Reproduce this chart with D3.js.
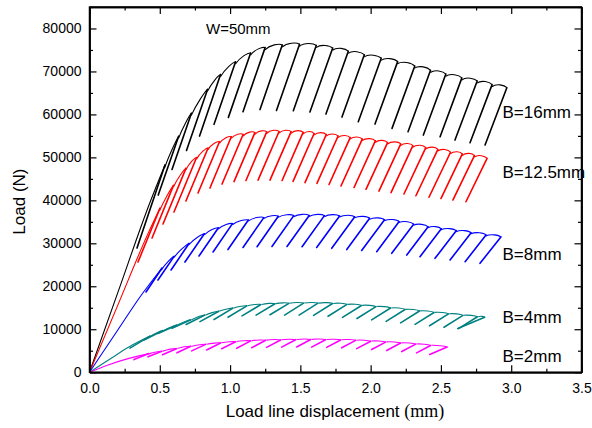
<!DOCTYPE html>
<html><head><meta charset="utf-8">
<script src="https://cdn.jsdelivr.net/npm/d3@7"></script>
<style>body{margin:0;background:#fff}svg{display:block}</style>
</head><body>
<svg id="c" width="592" height="428"></svg>
<script>
// ---------------- DATA ----------------
const xTicks = [0, 0.5, 1.0, 1.5, 2.0, 2.5, 3.0, 3.5];
const xMinorTicks = [0.25, 0.75, 1.25, 1.75, 2.25, 2.75, 3.25];
const yTicks = [0, 10000, 20000, 30000, 40000, 50000, 60000, 70000, 80000];
const yMinorTicks = [5000, 15000, 25000, 35000, 45000, 55000, 65000, 75000, 85000];
const seriesNames = ["B=16mm", "B=12.5mm", "B=8mm", "B=4mm", "B=2mm"];
const seriesColors = ["#000000", "#ff0000", "#0000ff", "#008080", "#ff00ff"];

// B=16mm
const b16InitX = [0, 0.2, 0.43];
const b16InitLoad = [0, 18400, 39500];
const b16TopX = [0.537,0.637,0.728,0.843,0.935,1.042,1.149,1.252,1.374,1.497,1.616,1.733,1.844,1.958,2.078,2.195,2.317,2.429,2.538,2.652,2.761,2.867,2.972];
const b16TopLoad = [48240,55200,60550,66130,69530,72510,74560,75810,76440,76600,76320,75700,74970,74160,73350,72550,71530,70530,69650,68760,68040,67200,66480];
const b16BotX = [0.338,0.489,0.587,0.690,0.783,0.886,0.988,1.092,1.213,1.330,1.450,1.568,1.682,1.796,1.912,2.031,2.152,2.266,2.375,2.494,2.600,2.707,2.814];
const b16BotLoad = [28900,41230,47170,51590,54960,57690,59310,60620,61130,60900,60850,60550,60080,59380,58290,57750,56750,55960,55190,54800,54030,53400,52870];

// B=12.5mm
const b125InitX = [0, 0.2, 0.416];
const b125InitLoad = [0, 15500, 32250];
const b125TopX = [0.502,0.601,0.690,0.765,0.847,0.928,1.012,1.096,1.180,1.264,1.352,1.438,1.523,1.601,1.688,1.772,1.858,1.944,2.037,2.124,2.218,2.304,2.396,2.482,2.572,2.656,2.742,2.832];
const b125TopLoad = [38210,43750,47750,50240,52450,53910,55050,55590,56010,56200,56270,56240,56080,55820,55570,55220,54870,54520,54100,53700,53380,52980,52540,52120,51450,51050,50680,50010];
const b125BotX = [0.345,0.445,0.523,0.601,0.686,0.772,0.857,0.943,1.028,1.113,1.199,1.284,1.370,1.448,1.533,1.618,1.704,1.789,1.882,1.967,2.059,2.145,2.237,2.322,2.415,2.500,2.585,2.678];
const b125BotLoad = [25640,31230,34490,37280,39840,41700,42860,43790,44370,44610,44720,44720,44610,44420,44140,43960,43680,43330,42980,42560,42160,41810,41470,41070,40720,40420,40070,39670];

// B=8mm
const b8InitX = [0, 0.2, 0.359];
const b8InitLoad = [0, 9750, 17500];
const b8TopX = [0.516,0.607,0.713,0.822,0.921,1.022,1.135,1.245,1.348,1.458,1.568,1.676,1.784,1.892,1.998,2.104,2.208,2.311,2.414,2.508,2.614,2.720,2.826,2.932];
const b8TopLoad = [24250,27200,30200,32460,33810,34810,35650,36210,36510,36670,36700,36670,36580,36390,36040,35690,35280,34670,34070,33600,33160,32670,32160,31690];
const b8BotX = [0.402,0.487,0.580,0.679,0.779,0.879,0.985,1.092,1.192,1.298,1.405,1.512,1.616,1.723,1.830,1.936,2.043,2.150,2.257,2.351,2.458,2.565,2.672,2.778];
const b8BotLoad = [18660,21450,23780,25640,27040,27970,28550,29020,29200,29250,29250,29200,29020,28830,28550,28320,28040,27670,27270,26880,26500,26110,25710,25340];

// B=4mm
const b4InitX = [0, 0.146, 0.274];
const b4InitLoad = [0, 3070, 5750];
const b4TopX = [0.430,0.530,0.630,0.729,0.829,0.928,1.028,1.127,1.227,1.327,1.426,1.530,1.633,1.736,1.839,1.942,2.045,2.149,2.252,2.355,2.458,2.561,2.664,2.767,2.819];
const b4TopLoad = [8400,9820,11120,12330,13430,14330,15050,15590,15890,16080,16170,16210,16210,16130,15920,15680,15400,15080,14750,14400,14050,13730,13380,13050,12910];
const b4BotX = [0.288,0.388,0.488,0.587,0.687,0.786,0.886,0.985,1.085,1.185,1.284,1.388,1.491,1.594,1.697,1.800,1.903,2.007,2.110,2.213,2.316,2.419,2.522,2.625,2.620];
const b4BotLoad = [5610,7490,9030,10240,11100,11770,12260,12800,13100,13290,13380,13300,13300,13220,13010,12770,12490,12170,11840,11490,11140,10820,10470,10140,10190];

// B=2mm
const b2InitX = [0, 0.132, 0.274];
const b2InitLoad = [0, 1680, 3160];
const b2TopX = [0.423,0.523,0.626,0.729,0.834,0.940,1.047,1.154,1.261,1.367,1.474,1.581,1.687,1.794,1.901,2.008,2.114,2.221,2.328,2.434,2.552];
const b2TopLoad = [4330,4980,5580,6140,6590,6930,7210,7420,7560,7640,7700,7730,7700,7640,7540,7350,7140,6910,6660,6350,5980];
const b2BotX = [0.316,0.416,0.519,0.622,0.727,0.833,0.940,1.047,1.154,1.260,1.367,1.474,1.580,1.687,1.794,1.901,2.007,2.114,2.221,2.327,2.420];
const b2BotLoad = [2930,3580,4070,4510,4960,5180,5460,5560,5700,5780,5840,5870,5840,5780,5680,5490,5280,5050,4800,4490,4120];

// --------------- BUILD -----------------
const seriesData = [
  [b16InitX, b16InitLoad, b16TopX, b16TopLoad, b16BotX, b16BotLoad],
  [b125InitX, b125InitLoad, b125TopX, b125TopLoad, b125BotX, b125BotLoad],
  [b8InitX, b8InitLoad, b8TopX, b8TopLoad, b8BotX, b8BotLoad],
  [b4InitX, b4InitLoad, b4TopX, b4TopLoad, b4BotX, b4BotLoad],
  [b2InitX, b2InitLoad, b2TopX, b2TopLoad, b2BotX, b2BotLoad]
].map((a, i) => ({
  name: seriesNames[i], color: seriesColors[i],
  init: a[0].map((v, j) => [v, a[1][j]]).concat([[a[2][0], a[3][0]]]),
  legs: a[2].map((v, j) => ({top: [v, a[3][j]], bot: [a[4][j], a[5][j]]}))
}));

// styling of the rounded caps (pixels): [reload join depth, bulge]
const capStyle = [[3.5, 1.0], [3, 1.0], [2.5, 0.8], [1.0, 0.3], [0.8, 0.2]];

// layout
const L = 89.5, R = 581.5, T = 7, B = 372.2;
const FONT = "'Liberation Sans', Arial, Helvetica, sans-serif";
const svg = d3.select("#c");
const x = d3.scaleLinear().domain([0, 3.5]).range([L, R]);
const y = d3.scaleLinear().domain([0, 85000]).range([B, T]);

// series
const line = d3.line().x(d => x(d[0])).y(d => y(d[1])).curve(d3.curveMonotoneX);
const gS = svg.append("g");
seriesData.forEach((s, si) => {
  const [depth, bulge] = capStyle[si];
  const g = gS.append("g").attr("fill", "none").attr("stroke", s.color);
  const tops = s.legs.map(l => [x(l.top[0]), y(l.top[1])]);
  const bots = s.legs.map(l => [x(l.bot[0]), y(l.bot[1])]);
  const u = tops.map((t, i) => {
    const dx = bots[i][0] - t[0], dy = bots[i][1] - t[1], n = Math.hypot(dx, dy);
    return [dx / n, dy / n];
  });
  // initial loading up to first unloading point
  g.append("path").attr("d", line(s.init)).attr("stroke-width", 1.1);
  // envelope segments between successive unloadings
  const p = d3.path();
  for (let i = 0; i < tops.length - 1; i++) {
    const A = tops[i], C = tops[i + 1];
    const cx = C[0] - A[0], cy = C[1] - A[1];
    const P0 = [A[0] + u[i][0] * depth + 0.6, A[1] + u[i][1] * depth];
    const P1 = [A[0] + cx * 0.25, A[1] + cy * 0.25 - bulge];
    const P2 = [C[0] - cx * 0.2, C[1] - cy * 0.2 - bulge];
    const P3 = [C[0] + u[i + 1][0] * 1.2, C[1] + u[i + 1][1] * 1.2];
    p.moveTo(P0[0], P0[1]);
    p.bezierCurveTo(P1[0], P1[1], P2[0], P2[1], P3[0], P3[1]);
  }
  g.append("path").attr("d", p.toString()).attr("stroke-width", 1.1);
  // unloading / reloading legs
  g.selectAll("line.leg").data(s.legs).enter().append("line")
    .attr("x1", (d, i) => tops[i][0] + (i ? u[i][0] * 1.2 : 0))
    .attr("y1", (d, i) => tops[i][1] + (i ? u[i][1] * 1.2 : 0))
    .attr("x2", d => x(d.bot[0])).attr("y2", d => y(d.bot[1]))
    .attr("stroke-width", 1.6).attr("stroke-linecap", "round");
});

// axes
function styleAxis(g) {
  g.selectAll("path.domain").attr("stroke", "#000").attr("stroke-width", 1.5);
  g.selectAll(".tick line").attr("stroke", "#000").attr("stroke-width", 1.2);
  g.selectAll("text").attr("font-family", FONT).attr("font-size", 14).attr("fill", "#000");
}
const fmtX = d3.format(".1f");
svg.append("g").attr("transform", `translate(0,${B})`)
  .call(d3.axisBottom(x).tickValues(xTicks).tickFormat(fmtX).tickSizeInner(-7).tickSizeOuter(0).tickPadding(11)).call(styleAxis);
svg.append("g").attr("transform", `translate(0,${B})`)
  .call(d3.axisBottom(x).tickValues(xMinorTicks).tickFormat("").tickSizeInner(-3.5).tickSizeOuter(0)).call(styleAxis);
svg.append("g").attr("transform", `translate(0,${T})`)
  .call(d3.axisTop(x).tickValues(xTicks).tickFormat("").tickSizeInner(-7).tickSizeOuter(0)).call(styleAxis);
svg.append("g").attr("transform", `translate(0,${T})`)
  .call(d3.axisTop(x).tickValues(xMinorTicks).tickFormat("").tickSizeInner(-3.5).tickSizeOuter(0)).call(styleAxis);
svg.append("g").attr("transform", `translate(${L},0)`)
  .call(d3.axisLeft(y).tickValues(yTicks).tickFormat(d3.format("d")).tickSizeInner(-7).tickSizeOuter(0).tickPadding(8)).call(styleAxis);
svg.append("g").attr("transform", `translate(${L},0)`)
  .call(d3.axisLeft(y).tickValues(yMinorTicks).tickFormat("").tickSizeInner(-3.5).tickSizeOuter(0)).call(styleAxis);
svg.append("g").attr("transform", `translate(${R},0)`)
  .call(d3.axisRight(y).tickValues(yTicks).tickFormat("").tickSizeInner(-7).tickSizeOuter(0)).call(styleAxis);
svg.append("g").attr("transform", `translate(${R},0)`)
  .call(d3.axisRight(y).tickValues(yMinorTicks).tickFormat("").tickSizeInner(-3.5).tickSizeOuter(0)).call(styleAxis);
svg.append("rect").attr("x", L).attr("y", T).attr("width", R - L).attr("height", B - T)
  .attr("fill", "none").attr("stroke", "#000").attr("stroke-width", 1.5);

// titles
const xt = svg.append("text").attr("x", 335).attr("y", 417).attr("text-anchor", "middle")
  .attr("font-family", FONT).attr("font-size", 17).attr("fill", "#000");
xt.append("tspan").text("Load line displacement ");
xt.append("tspan").attr("font-family", "'Liberation Serif','Times New Roman',serif").attr("font-size", 18).text("(mm)");
svg.append("text").attr("transform", `translate(25,${(T + B) / 2 + 12}) rotate(-90)`).attr("text-anchor", "middle")
  .attr("font-family", FONT).attr("font-size", 17).attr("fill", "#000").text("Load (N)");

// annotations
svg.append("text").attr("x", 206).attr("y", 33.5).attr("font-family", FONT).attr("font-size", 15)
  .attr("fill", "#000").text("W=50mm");
const labelBaselines = [117.5, 178, 260, 323, 362];
seriesNames.forEach((n, i) => {
  svg.append("text").attr("x", 502.5).attr("y", labelBaselines[i]).attr("font-family", FONT)
    .attr("font-size", 17).attr("fill", "#000").text(n);
});
</script>
</body></html>
